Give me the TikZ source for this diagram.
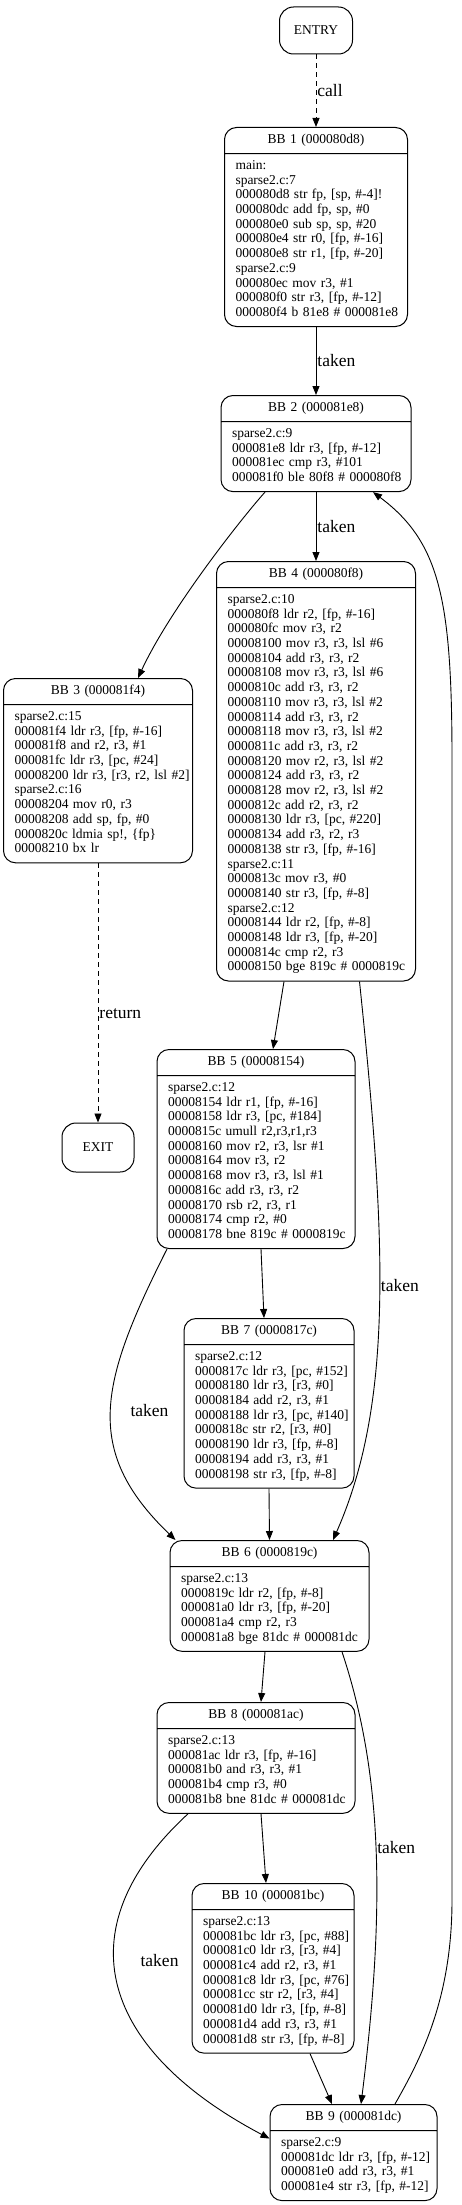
\documentclass[tikz,border=0pt]{standalone}
\usepackage{fontspec}
\setmainfont{Liberation Serif}
\usetikzlibrary{shapes.multipart,arrows.meta,positioning}
\newcommand{\bbfont}{\fontsize{13.5}{14.7}\selectfont}
\newcommand{\lblfont}{\fontsize{17.5}{19}\selectfont}
\newcommand{\bbhead}[1]{\hfill\strut #1\hfill\null}
\newcommand{\bbcode}[1]{\begin{tabular}{@{}l@{}}#1\end{tabular}}
\tikzstyle{line} = [draw, line width=0.9pt, -{Triangle[length=9pt,width=7pt]}]
\tikzstyle{dashline} = [line, dash pattern=on 5pt off 4pt]
\tikzstyle{block} = [draw, line width=1pt, rectangle split, rectangle split parts=2, rounded corners=12pt, align=left, inner xsep=11pt, inner ysep=5.15pt, font=\bbfont, anchor=north]
\tikzstyle{term} = [draw, line width=1pt, rectangle, rounded corners=14pt, font=\bbfont]
\tikzstyle{lbl} = [font=\lblfont, inner sep=1pt]

\begin{document}
\begin{tikzpicture}[x=1pt, y=1pt]
    \useasboundingbox (0,0) rectangle (461,-2205);
    \node[term, minimum width=73pt, minimum height=47pt] (entry) at (316,-30.5) {ENTRY};
    \node[block, text width=161pt] (bb1) at (316,-127) {\bbhead{BB 1 (000080d8)}\nodepart{two}\bbcode{main:\\ sparse2.c:7\\ 000080d8 str fp, [sp, \#-4]!\\ 000080dc add fp, sp, \#0\\ 000080e0 sub sp, sp, \#20\\ 000080e4 str r0, [fp, \#-16]\\ 000080e8 str r1, [fp, \#-20]\\ sparse2.c:9\\ 000080ec mov r3, \#1\\ 000080f0 str r3, [fp, \#-12]\\ 000080f4 b 81e8 \# 000081e8}};
    \node[block, text width=168pt] (bb2) at (316,-395) {\bbhead{BB 2 (000081e8)}\nodepart{two}\bbcode{sparse2.c:9\\ 000081e8 ldr r3, [fp, \#-12]\\ 000081ec cmp r3, \#101\\ 000081f0 ble 80f8 \# 000080f8}};
    \node[block, text width=167pt] (bb3) at (98,-678) {\bbhead{BB 3 (000081f4)}\nodepart{two}\bbcode{sparse2.c:15\\ 000081f4 ldr r3, [fp, \#-16]\\ 000081f8 and r2, r3, \#1\\ 000081fc ldr r3, [pc, \#24]\\ 00008200 ldr r3, [r3, r2, lsl \#2]\\ sparse2.c:16\\ 00008204 mov r0, r3\\ 00008208 add sp, fp, \#0\\ 0000820c ldmia sp!, \{fp\}\\ 00008210 bx lr}};
    \node[block, text width=177pt] (bb4) at (316,-561) {\bbhead{BB 4 (000080f8)}\nodepart{two}\bbcode{sparse2.c:10\\ 000080f8 ldr r2, [fp, \#-16]\\ 000080fc mov r3, r2\\ 00008100 mov r3, r3, lsl \#6\\ 00008104 add r3, r3, r2\\ 00008108 mov r3, r3, lsl \#6\\ 0000810c add r3, r3, r2\\ 00008110 mov r3, r3, lsl \#2\\ 00008114 add r3, r3, r2\\ 00008118 mov r3, r3, lsl \#2\\ 0000811c add r3, r3, r2\\ 00008120 mov r2, r3, lsl \#2\\ 00008124 add r3, r3, r2\\ 00008128 mov r2, r3, lsl \#2\\ 0000812c add r2, r3, r2\\ 00008130 ldr r3, [pc, \#220]\\ 00008134 add r3, r2, r3\\ 00008138 str r3, [fp, \#-16]\\ sparse2.c:11\\ 0000813c mov r3, \#0\\ 00008140 str r3, [fp, \#-8]\\ sparse2.c:12\\ 00008144 ldr r2, [fp, \#-8]\\ 00008148 ldr r3, [fp, \#-20]\\ 0000814c cmp r2, r3\\ 00008150 bge 819c \# 0000819c}};
    \node[term, minimum width=72pt, minimum height=49pt] (exit) at (98,-1147.5) {EXIT};
    \node[block, text width=176pt] (bb5) at (256,-1049) {\bbhead{BB 5 (00008154)}\nodepart{two}\bbcode{sparse2.c:12\\ 00008154 ldr r1, [fp, \#-16]\\ 00008158 ldr r3, [pc, \#184]\\ 0000815c umull r2,r3,r1,r3\\ 00008160 mov r2, r3, lsr \#1\\ 00008164 mov r3, r2\\ 00008168 mov r3, r3, lsl \#1\\ 0000816c add r3, r3, r2\\ 00008170 rsb r2, r3, r1\\ 00008174 cmp r2, \#0\\ 00008178 bne 819c \# 0000819c}};
    \node[block, text width=148pt] (bb7) at (269,-1318) {\bbhead{BB 7 (0000817c)}\nodepart{two}\bbcode{sparse2.c:12\\ 0000817c ldr r3, [pc, \#152]\\ 00008180 ldr r3, [r3, \#0]\\ 00008184 add r2, r3, \#1\\ 00008188 ldr r3, [pc, \#140]\\ 0000818c str r2, [r3, \#0]\\ 00008190 ldr r3, [fp, \#-8]\\ 00008194 add r3, r3, \#1\\ 00008198 str r3, [fp, \#-8]}};
    \node[block, text width=177pt] (bb6) at (269.5,-1540) {\bbhead{BB 6 (0000819c)}\nodepart{two}\bbcode{sparse2.c:13\\ 0000819c ldr r2, [fp, \#-8]\\ 000081a0 ldr r3, [fp, \#-20]\\ 000081a4 cmp r2, r3\\ 000081a8 bge 81dc \# 000081dc}};
    \node[block, text width=176pt] (bb8) at (256,-1702) {\bbhead{BB 8 (000081ac)}\nodepart{two}\bbcode{sparse2.c:13\\ 000081ac ldr r3, [fp, \#-16]\\ 000081b0 and r3, r3, \#1\\ 000081b4 cmp r3, \#0\\ 000081b8 bne 81dc \# 000081dc}};
    \node[block, text width=140pt] (bb10) at (273,-1883) {\bbhead{BB 10 (000081bc)}\nodepart{two}\bbcode{sparse2.c:13\\ 000081bc ldr r3, [pc, \#88]\\ 000081c0 ldr r3, [r3, \#4]\\ 000081c4 add r2, r3, \#1\\ 000081c8 ldr r3, [pc, \#76]\\ 000081cc str r2, [r3, \#4]\\ 000081d0 ldr r3, [fp, \#-8]\\ 000081d4 add r3, r3, \#1\\ 000081d8 str r3, [fp, \#-8]}};
    \node[block, text width=145pt] (bb9) at (353.5,-2104) {\bbhead{BB 9 (000081dc)}\nodepart{two}\bbcode{sparse2.c:9\\ 000081dc ldr r3, [fp, \#-12]\\ 000081e0 add r3, r3, \#1\\ 000081e4 str r3, [fp, \#-12]}};
    \coordinate (backlow) at (452,-1900);
    \coordinate (backhigh) at (452,-760);
    \path[dashline] (entry.south) -- node[lbl, right] {call} (bb1.north);
    \path[line] (bb1.south) -- node[lbl, right] {taken} (bb2.north);
    \path[line] (bb2.south) -- node[lbl, right] {taken} (bb4.north);
    \path[line] ([xshift=-51pt]bb2.south) .. controls +(-25,-28) and +(31.5,68) .. ([xshift=40pt]bb3.north);
    \path[dashline] (bb3.south) -- node[lbl, right, pos=0.58] {return} (exit.north);
    \path[line] ([xshift=-32pt]bb4.south) -- ([xshift=17pt]bb5.north);
    \path[line] ([xshift=43.5pt]bb4.south) .. controls +(26,-250) and +(62,140) .. node[lbl, right, pos=0.47] {taken} ([xshift=63.5pt]bb6.north);
    \path[line] ([xshift=5pt]bb5.south) -- ([xshift=-5pt]bb7.north);
    \path[line] ([xshift=-89pt]bb5.south) .. controls +(-67,-133) and +(-93.5,90) .. node[lbl, right=18pt] {taken} ([xshift=-94pt]bb6.north);
    \path[line] (bb7.south) -- (bb6.north);
    \path[line] ([xshift=-4.5pt]bb6.south) -- ([xshift=5pt]bb8.north);
    \path[line] ([xshift=72.5pt]bb6.south) .. controls +(40,-120) and +(25,200) .. node[lbl, right] {taken} ([xshift=7.5pt]bb9.north);
    \path[line] ([xshift=5pt]bb8.south) -- ([xshift=-7pt]bb10.north);
    \path[line] ([xshift=-68pt]bb8.south) .. controls +(-128,-118) and +(-165,87) .. node[lbl, right=25pt, pos=0.42] {taken} ([yshift=14pt]bb9.west);
    \path[line] ([xshift=37pt]bb10.south) -- ([xshift=-21.5pt]bb9.north);
    \path[line] ([xshift=41.5pt]bb9.north) .. controls +(25,44) and +(0,-100) .. (backlow) -- (backhigh) .. controls +(0,160) and +(67,-50) .. ([xshift=57pt]bb2.south);
\end{tikzpicture}
\end{document}
